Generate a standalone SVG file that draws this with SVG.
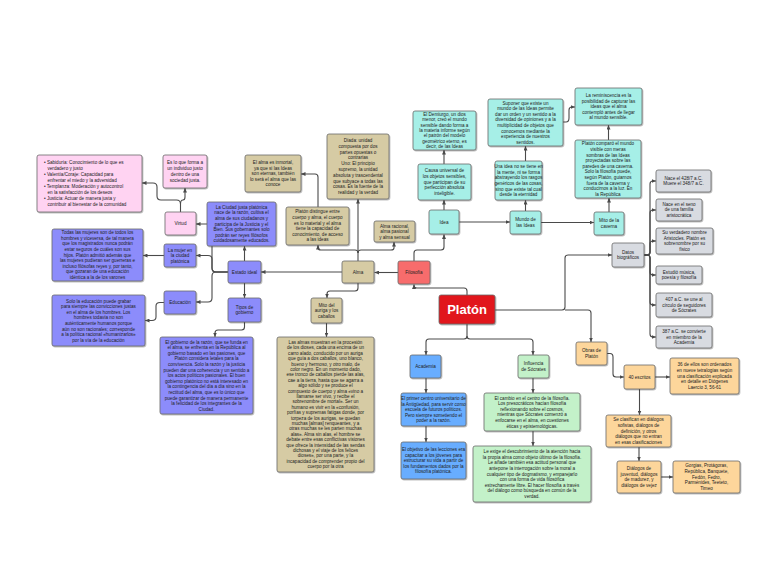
<svg xmlns="http://www.w3.org/2000/svg" width="768" height="577" viewBox="0 0 768 577">
<style>
text{font-family:"Liberation Sans",Arial,sans-serif;font-size:4.6px;fill:#222;text-anchor:middle}
.l{text-anchor:start}
rect{stroke:#6b6b6b;stroke-width:0.8;filter:url(#sh)}
.pk{fill:#FFD3F2}.bl{fill:#8C8CFB}.tn{fill:#D6CBA4}.sa{fill:#F76C6C}.rd{fill:#E1141A}.ac{fill:#67ADFF}.gr{fill:#C3F1C9}.cy{fill:#A6EFE7}.gy{fill:#D8DBE1}.or{fill:#FDD69B}
#conn path{fill:none;stroke:#4a4a4a;stroke-width:1.1;marker-end:url(#ar)}
.big{font-size:13px;font-weight:bold;fill:#fff}
</style>
<defs>
<filter id="sh" x="-10%" y="-10%" width="130%" height="130%"><feDropShadow dx="0.7" dy="0.9" stdDeviation="0.4" flood-color="#000" flood-opacity="0.35"/></filter>
<marker id="ar" markerWidth="5" markerHeight="4" refX="4.5" refY="2" orient="auto" markerUnits="userSpaceOnUse"><path d="M0,0 L4.5,2 L0,4 z" fill="#4a4a4a"/></marker>
</defs>
<rect x="0" y="0" width="768" height="577" fill="#fff" style="stroke:none;filter:none"/>
<g id="conn">
<path d="M467,295 V291 Q467,288 464,288 H417 Q414,288 414,286 V284.5"/>
<path d="M414,261 V253 Q414,250 417,250 H441 Q444,250 444,247 V234.5"/>
<path d="M398,272.5 H374.5"/>
<path d="M467,324 V336 Q467,339 464,339 H429 Q426,339 426,342 V355"/>
<path d="M467,336 Q467,339 470,339 H530 Q533,339 533,342 V355"/>
<path d="M495,310 H562 Q565,310 565,307 V258 Q565,255 568,255 H612"/>
<path d="M565,310 H588 Q591,310 591,313 V342"/>
<path d="M644,255 H647 Q650,255 650,252 V184 Q650,181 653,181 H656"/>
<path d="M644,255 H647 Q650,255 650,252 V213 Q650,210 653,210 H656"/>
<path d="M644,255 H647 Q650,255 650,252 V244 Q650,241 653,241 H656"/>
<path d="M644,255 H647 Q650,255 650,258 V272 Q650,275 653,275 H656"/>
<path d="M644,255 H647 Q650,255 650,258 V302 Q650,305 653,305 H656"/>
<path d="M644,255 H647 Q650,255 650,258 V334 Q650,337 653,337 H656"/>
<path d="M607,353.5 H610 Q613,353.5 613,357 V374 Q613,377 616,377 H624"/>
<path d="M655,377 H670"/>
<path d="M639.5,389 V415"/>
<path d="M639,447 V461"/>
<path d="M661,477 H673"/>
<path d="M426,378 V393"/>
<path d="M426,426 V442"/>
<path d="M533,378 V393"/>
<path d="M533,431 V446"/>
<path d="M444,210 V200"/>
<path d="M444,164 V150"/>
<path d="M459,222 H510"/>
<path d="M525.5,211 V200"/>
<path d="M525.5,161 V146"/>
<path d="M541,222.5 H594"/>
<path d="M609,212 V198"/>
<path d="M608.5,140 V125"/>
<path d="M563,122 H566 Q569,122 569,118 V110 Q569,107 572,107 H575"/>
<path d="M358,261 V199"/>
<path d="M358,253 Q358,250 355,250 H321 Q318,250 318,248 V245"/>
<path d="M358,253 Q358,250 361,250 H391 Q394,250 394,248 V242"/>
<path d="M318,208 V177 Q318,174 315,174 H301"/>
<path d="M342,272 H261"/>
<path d="M358,283 V288 Q358,291 355,291 H330 Q327,291 327,294 V298"/>
<path d="M326.5,323 V337"/>
<path d="M244.5,261 V246"/>
<path d="M244.5,283 V298"/>
<path d="M244.5,322 V327 Q244.5,330 241.5,330 H218 Q215,330 215,333 V337"/>
<path d="M228,272 H216 Q212,272 212,268 V228 Q212,224 208,224 H196"/>
<path d="M228,272 H216 Q212,272 212,268 V259 Q212,255.5 208,255.5 H196"/>
<path d="M228,272 H216 Q212,272 212,276 V298 Q212,302 208,302 H196"/>
<path d="M164,255.5 H143"/>
<path d="M164,302.5 H160 Q156,302.5 156,306 V317 Q156,320.5 152,320.5 H145"/>
<path d="M180.5,212 V204 Q180.5,200 176.5,200 H161 Q157,200 157,196 V187 Q157,183 153,183 H142"/>
<path d="M180.5,204 Q180.5,200 183,200 Q185,200 185,197 V188"/>
</g>
<g id="virtudes"><rect class="pk" x="37" y="155" width="105" height="57" rx="2"/>
<text class="l"><tspan x="44" y="164.1">• Sabiduría: Conocimiento de lo que es</tspan><tspan x="47.5" y="170.1">verdadero y justo</tspan><tspan x="44" y="176.1">• Valentía/Coraje: Capacidad para</tspan><tspan x="47.5" y="182.1">enfrentar el miedo y la adversidad</tspan><tspan x="44" y="188.1">• Templanza: Moderación y autocontrol</tspan><tspan x="47.5" y="194.1">en la satisfacción de los deseos</tspan><tspan x="44" y="200.1">• Justicia: Actuar de manera justa y</tspan><tspan x="47.5" y="206.1">contribuir al bienestar de la comunidad</tspan></text></g>
<g id="eslo"><rect class="pk" x="163" y="155" width="44" height="33" rx="2"/>
<text><tspan x="185" y="164.4">Es lo que forma a</tspan><tspan x="185" y="170.2">un individuo justo</tspan><tspan x="185" y="176">dentro de una</tspan><tspan x="185" y="181.8">sociedad justa.</tspan></text></g>
<g id="virtud"><rect class="pk" x="165" y="212" width="31" height="23" rx="2"/><text x="180.5" y="225.1">Virtud</text></g>
<g id="mujeres"><rect class="bl" x="52" y="229" width="91" height="52" rx="2"/>
<text><tspan x="97.5" y="234.2">Todas las mujeres son de todos los</tspan><tspan x="97.5" y="239.8">hombres y viceversa, de tal manera</tspan><tspan x="97.5" y="245.4">que los magistrados nunca podrán</tspan><tspan x="97.5" y="251">estar seguros de cuáles son sus</tspan><tspan x="97.5" y="256.6">hijos. Platón admitió además que</tspan><tspan x="97.5" y="262.2">las mujeres pudieran ser guerreras e</tspan><tspan x="97.5" y="267.8">incluso filósofas reyes y, por tanto,</tspan><tspan x="97.5" y="273.4">que gozaran de una educación</tspan><tspan x="97.5" y="279">idéntica a la de los varones</tspan></text></g>
<g id="mujer"><rect class="bl" x="164" y="244" width="32" height="23" rx="2"/>
<text><tspan x="180" y="251.5">La mujer en</tspan><tspan x="180" y="257.1">la ciudad</tspan><tspan x="180" y="262.7">platónica</tspan></text></g>
<g id="educacion"><rect class="bl" x="164" y="291" width="32" height="23" rx="2"/><text x="180" y="304.1">Educación</text></g>
<g id="soloedu"><rect class="bl" x="52" y="295" width="93" height="51" rx="2"/>
<text><tspan x="98.5" y="302.5">Solo la educación puede grabar</tspan><tspan x="98.5" y="308.1">para siempre las convicciones justas</tspan><tspan x="98.5" y="313.7">en el alma de los hombres. Los</tspan><tspan x="98.5" y="319.3">hombres todavía no son</tspan><tspan x="98.5" y="324.9">auténticamente humanos porque</tspan><tspan x="98.5" y="330.5">aún no son racionales; corresponde</tspan><tspan x="98.5" y="336.1">a la política racional «humanizarlos»</tspan><tspan x="98.5" y="341.7">por la vía de la educación</tspan></text></g>
<g id="estado"><rect class="bl" x="228" y="261" width="33" height="22" rx="2"/><text x="244.5" y="273.6">Estado ideal</text></g>
<g id="tipos"><rect class="bl" x="228" y="298" width="33" height="24" rx="2"/>
<text><tspan x="244.5" y="308.8">Tipos de</tspan><tspan x="244.5" y="314.4">gobierno</tspan></text></g>
<g id="gobierno"><rect class="bl" x="160" y="337" width="93" height="77" rx="2"/>
<text><tspan x="206.5" y="343.5">El gobierno de la razón, que se funda en</tspan><tspan x="206.5" y="349.1">el alma, se enfrenta en la República al</tspan><tspan x="206.5" y="354.7">gobierno basado en las pasiones, que</tspan><tspan x="206.5" y="360.3">Platón considera letales para la</tspan><tspan x="206.5" y="365.9">convivencia. Solo la razón y la justicia</tspan><tspan x="206.5" y="371.5">pueden dar una coherencia y un sentido a</tspan><tspan x="206.5" y="377.1">los actos políticos pasionales. El buen</tspan><tspan x="206.5" y="382.7">gobierno platónico no está interesado en</tspan><tspan x="206.5" y="388.3">la contingencia del día a día sino en la</tspan><tspan x="206.5" y="393.9">rectitud del alma, que es lo único que</tspan><tspan x="206.5" y="399.5">puede garantizar de manera permanente</tspan><tspan x="206.5" y="405.1">la felicidad de los integrantes de la</tspan><tspan x="206.5" y="410.7">Ciudad.</tspan></text></g>
<g id="ciudad"><rect class="bl" x="207" y="202" width="69" height="44" rx="2"/>
<text><tspan x="241.5" y="208.8">La Ciudad justa platónica</tspan><tspan x="241.5" y="214.4">nace de la razón, cultiva el</tspan><tspan x="241.5" y="220">alma de sus ciudadanos y</tspan><tspan x="241.5" y="225.6">participa de la Justicia y el</tspan><tspan x="241.5" y="231.2">Bien. Sus gobernantes solo</tspan><tspan x="241.5" y="236.8">podrán ser reyes filósofos</tspan><tspan x="241.5" y="242.4">cuidadosamente educados.</tspan></text></g>
<g id="inmortal"><rect class="tn" x="245" y="155" width="56" height="37" rx="2"/>
<text><tspan x="273" y="163.9">El alma es inmortal,</tspan><tspan x="273" y="169.5">ya que si las Ideas</tspan><tspan x="273" y="175.1">son eternas, también</tspan><tspan x="273" y="180.7">lo será el alma que las</tspan><tspan x="273" y="186.3">conoce</tspan></text></g>
<g id="diada"><rect class="tn" x="327" y="134" width="62" height="65" rx="2"/>
<text><tspan x="358" y="142">Díada: unidad</tspan><tspan x="358" y="147.8">compuesta por dos</tspan><tspan x="358" y="153.6">partes opuestas o</tspan><tspan x="358" y="159.4">contrarias</tspan><tspan x="358" y="165.2">Uno: El principio</tspan><tspan x="358" y="171">supremo, la unidad</tspan><tspan x="358" y="176.8">absoluta y trascendental</tspan><tspan x="358" y="182.6">que subyace a todas las</tspan><tspan x="358" y="188.4">cosas. Es la fuente de la</tspan><tspan x="358" y="194.2">realidad y la verdad</tspan></text></g>
<g id="distingue"><rect class="tn" x="286" y="207" width="63" height="38" rx="2"/>
<text><tspan x="317.5" y="213.4">Platón distingue entre</tspan><tspan x="317.5" y="219">cuerpo y alma, el cuerpo</tspan><tspan x="317.5" y="224.6">es lo material y el alma</tspan><tspan x="317.5" y="230.2">tiene la capacidad de</tspan><tspan x="317.5" y="235.8">conocimiento, de acceso</tspan><tspan x="317.5" y="241.4">a las ideas</tspan></text></g>
<g id="racional"><rect class="tn" x="374" y="221" width="41" height="21" rx="2"/>
<text><tspan x="394.5" y="227.6">Alma racional,</tspan><tspan x="394.5" y="233.2">alma pasional</tspan><tspan x="394.5" y="238.8">y alma sensual</tspan></text></g>
<g id="alma"><rect class="tn" x="342" y="261" width="32" height="22" rx="2"/><text x="358" y="273.6">Alma</text></g>
<g id="auriga"><rect class="tn" x="311" y="298" width="31" height="25" rx="2"/>
<text><tspan x="326.5" y="306.5">Mito del</tspan><tspan x="326.5" y="312.1">auriga y los</tspan><tspan x="326.5" y="317.7">caballos</tspan></text></g>
<g id="almas"><rect class="tn" x="277" y="337" width="97" height="135" rx="2"/>
<text><tspan x="325.5" y="344">Las almas muestran en la procesión</tspan><tspan x="325.5" y="349.4">de los dioses, cada una encima de un</tspan><tspan x="325.5" y="354.8">carro alado, conducido por un auriga</tspan><tspan x="325.5" y="360.2">que guía a dos caballos, uno blanco,</tspan><tspan x="325.5" y="365.6">bueno y hermoso, y otro malo, de</tspan><tspan x="325.5" y="371">color negro. En un momento dado,</tspan><tspan x="325.5" y="376.4">ese tronco de caballos pierde las alas,</tspan><tspan x="325.5" y="381.8">cae a la tierra, hasta que se agarra a</tspan><tspan x="325.5" y="387.2">algo sólido y se produce el</tspan><tspan x="325.5" y="392.6">compuesto de cuerpo y alma «vino a</tspan><tspan x="325.5" y="398">llamarse ser vivo, y recibe el</tspan><tspan x="325.5" y="403.4">sobrenombre de mortal». Ser un</tspan><tspan x="325.5" y="408.8">humano es vivir en la «confusión,</tspan><tspan x="325.5" y="414.2">porfías y supremas fatigas donde, por</tspan><tspan x="325.5" y="419.6">torpeza de los aurigas, se quedan</tspan><tspan x="325.5" y="425">muchas [almas] renqueantes, y a</tspan><tspan x="325.5" y="430.4">otras muchas se les parten muchas</tspan><tspan x="325.5" y="435.8">alas». Alma sin alas, el hombre se</tspan><tspan x="325.5" y="441.2">debate entre esas conflictivas visiones</tspan><tspan x="325.5" y="446.6">que ofrece la intensidad de las sendas</tspan><tspan x="325.5" y="452">dichosas y el viaje de los felices</tspan><tspan x="325.5" y="457.4">dioses», por una parte, y la</tspan><tspan x="325.5" y="462.8">incapacidad de comprender propio del</tspan><tspan x="325.5" y="468.2">cuerpo por la otra</tspan></text></g>
<g id="filosofia"><rect class="sa" x="398" y="261" width="32" height="23" rx="2"/><text x="414" y="274.1">Filosofía</text></g>
<g id="platon"><rect class="rd" x="439" y="295" width="56" height="29" rx="2"/><text class="big" x="467" y="314">Platón</text></g>
<g id="academia"><rect class="ac" x="410" y="355" width="31" height="23" rx="2"/><text x="425.5" y="368.1">Academia</text></g>
<g id="influencia"><rect class="gr" x="518" y="355" width="31" height="23" rx="2"/>
<text><tspan x="533.5" y="365.3">Influencia</tspan><tspan x="533.5" y="370.9">de Sócrates</tspan></text></g>
<g id="primer"><rect class="ac" x="401" y="393" width="65" height="33" rx="2"/>
<text><tspan x="433.5" y="399.9">El primer centro universitario de</tspan><tspan x="433.5" y="405.5">la Antigüedad, para servir como</tspan><tspan x="433.5" y="411.1">escuela de futuros políticos.</tspan><tspan x="433.5" y="416.7">Pero siempre sometiendo el</tspan><tspan x="433.5" y="422.3">poder a la razón.</tspan></text></g>
<g id="objetivo"><rect class="ac" x="401" y="442" width="65" height="37" rx="2"/>
<text><tspan x="433.5" y="450.9">El objetivo de las lecciones era</tspan><tspan x="433.5" y="456.5">capacitar a los jóvenes para</tspan><tspan x="433.5" y="462.1">estructurar su vida a partir de</tspan><tspan x="433.5" y="467.7">los fundamentos dados por la</tspan><tspan x="433.5" y="473.3">filosofía platónica.</tspan></text></g>
<g id="cambio"><rect class="gr" x="484" y="393" width="96" height="38" rx="2"/>
<text><tspan x="532" y="399.6">El cambio en el centro de la filosofía.</tspan><tspan x="532" y="405.2">Los presocráticos hacían filosofía</tspan><tspan x="532" y="410.8">reflexionando sobre el cosmos,</tspan><tspan x="532" y="416.4">mientras que Sócrates comenzó a</tspan><tspan x="532" y="422">enfocarse en el alma, en cuestiones</tspan><tspan x="532" y="427.6">éticas y epistemológicas.</tspan></text></g>
<g id="exige"><rect class="gr" x="473" y="446" width="118" height="56" rx="2"/>
<text><tspan x="532" y="453.2">Le exige el descubrimiento de la atención hacia</tspan><tspan x="532" y="458.8">la propia alma como objeto último de la filosofía.</tspan><tspan x="532" y="464.4">Le añade también esa actitud personal que</tspan><tspan x="532" y="470">antepone la interrogación sobre la moral a</tspan><tspan x="532" y="475.6">cualquier tipo de dogmatismo, y emparejarlo</tspan><tspan x="532" y="481.2">con una forma de vida filosófica</tspan><tspan x="532" y="486.8">estrechamente libre. El hacer filosofía a través</tspan><tspan x="532" y="492.4">del diálogo como búsqueda en común de la</tspan><tspan x="532" y="498">verdad.</tspan></text></g>
<g id="idea"><rect class="cy" x="429" y="210" width="30" height="24" rx="2"/><text x="444" y="223.6">Idea</text></g>
<g id="causa"><rect class="cy" x="418" y="164" width="53" height="36" rx="2"/>
<text><tspan x="444.5" y="172.4">Causa universal de</tspan><tspan x="444.5" y="178">los objetos sensibles,</tspan><tspan x="444.5" y="183.6">que participan de su</tspan><tspan x="444.5" y="189.2">perfección absoluta</tspan><tspan x="444.5" y="194.8">inteligible.</tspan></text></g>
<g id="demiurgo"><rect class="cy" x="413" y="111" width="63" height="39" rx="2"/>
<text><tspan x="444.5" y="116">El Demiurgo, un dios</tspan><tspan x="444.5" y="121.3">menor, creó el mundo</tspan><tspan x="444.5" y="126.6">sensible dando forma a</tspan><tspan x="444.5" y="131.9">la materia informe según</tspan><tspan x="444.5" y="137.2">el patrón del modelo</tspan><tspan x="444.5" y="142.5">geométrico eterno, es</tspan><tspan x="444.5" y="147.8">decir, de las Ideas</tspan></text></g>
<g id="mundo"><rect class="cy" x="510" y="211" width="31" height="23" rx="2"/>
<text><tspan x="525.5" y="221.3">Mundo de</tspan><tspan x="525.5" y="226.9">las Ideas</tspan></text></g>
<g id="unaidea"><rect class="cy" x="495" y="161" width="47" height="39" rx="2"/>
<text><tspan x="518.5" y="168.1">Una idea no se tiene en</tspan><tspan x="518.5" y="173.7">la mente, ni se forma</tspan><tspan x="518.5" y="179.3">abstrayendo los rasgos</tspan><tspan x="518.5" y="184.9">genéricos de las cosas,</tspan><tspan x="518.5" y="190.5">sino que existe tal cual</tspan><tspan x="518.5" y="196.1">desde la eternidad</tspan></text></g>
<g id="suponer"><rect class="cy" x="488" y="99" width="75" height="47" rx="2"/>
<text><tspan x="525.5" y="104.5">Suponer que existe un</tspan><tspan x="525.5" y="110.1">mundo de las Ideas permite</tspan><tspan x="525.5" y="115.7">dar un orden y un sentido a la</tspan><tspan x="525.5" y="121.3">diversidad de opiniones y a la</tspan><tspan x="525.5" y="126.9">multiplicidad de objetos que</tspan><tspan x="525.5" y="132.5">conocemos mediante la</tspan><tspan x="525.5" y="138.1">experiencia de nuestros</tspan><tspan x="525.5" y="143.7">sentidos.</tspan></text></g>
<g id="caverna"><rect class="cy" x="594" y="212" width="30" height="23" rx="2"/>
<text><tspan x="609" y="222.3">Mito de la</tspan><tspan x="609" y="227.9">caverna</tspan></text></g>
<g id="comparo"><rect class="cy" x="575" y="140" width="66" height="58" rx="2"/>
<text><tspan x="608" y="145.4">Platón comparó el mundo</tspan><tspan x="608" y="151">visible con meras</tspan><tspan x="608" y="156.6">sombras de las Ideas</tspan><tspan x="608" y="162.2">proyectadas sobre las</tspan><tspan x="608" y="167.8">paredes de una caverna.</tspan><tspan x="608" y="173.4">Solo la filosofía puede,</tspan><tspan x="608" y="179">según Platón, guiarnos</tspan><tspan x="608" y="184.6">fuera de la caverna y</tspan><tspan x="608" y="190.2">conducirnos a la luz. En</tspan><tspan x="608" y="195.8">la República</tspan></text></g>
<g id="reminiscencia"><rect class="cy" x="575" y="88" width="67" height="37" rx="2"/>
<text><tspan x="608.5" y="96.9">La reminiscencia es la</tspan><tspan x="608.5" y="102.5">posibilidad de capturar las</tspan><tspan x="608.5" y="108.1">ideas que el alma</tspan><tspan x="608.5" y="113.7">contempló antes de llegar</tspan><tspan x="608.5" y="119.3">al mundo sensible.</tspan></text></g>
<g id="datos"><rect class="gy" x="612" y="243" width="32" height="24" rx="2"/>
<text><tspan x="628" y="253.8">Datos</tspan><tspan x="628" y="259.4">biográficos</tspan></text></g>
<g id="nace"><rect class="gy" x="656" y="170" width="55" height="22" rx="2"/>
<text><tspan x="683.5" y="179.8">Nace el 428/7 a.C.</tspan><tspan x="683.5" y="185.4">Muere el 348/7 a.C.</tspan></text></g>
<g id="seno"><rect class="gy" x="656" y="199" width="46" height="22" rx="2"/>
<text><tspan x="679" y="205.6">Nace en el seno</tspan><tspan x="679" y="211.2">de una familia</tspan><tspan x="679" y="216.8">aristocrática</tspan></text></g>
<g id="nombre"><rect class="gy" x="656" y="228" width="57" height="26" rx="2"/>
<text><tspan x="684.5" y="234.2">Su verdadero nombre</tspan><tspan x="684.5" y="239.8">Aristocles. Platón es</tspan><tspan x="684.5" y="245.4">sobrenombre por su</tspan><tspan x="684.5" y="251">físico</tspan></text></g>
<g id="estudio"><rect class="gy" x="656" y="266" width="46" height="18" rx="2"/>
<text><tspan x="679" y="273.8">Estudió música,</tspan><tspan x="679" y="279.4">poesía y filosofía</tspan></text></g>
<g id="s407"><rect class="gy" x="656" y="293" width="56" height="24" rx="2"/>
<text><tspan x="684" y="301">407 a.C. se une al</tspan><tspan x="684" y="306.6">círculo de seguidores</tspan><tspan x="684" y="312.2">de Sócrates</tspan></text></g>
<g id="s387"><rect class="gy" x="656" y="326" width="56" height="22" rx="2"/>
<text><tspan x="684" y="333">387 a.C. se convierte</tspan><tspan x="684" y="338.6">en miembro de la</tspan><tspan x="684" y="344.2">Academia</tspan></text></g>
<g id="obras"><rect class="or" x="576" y="342" width="31" height="23" rx="2"/>
<text><tspan x="591.5" y="352.3">Obras de</tspan><tspan x="591.5" y="357.9">Platón</tspan></text></g>
<g id="escritos"><rect class="or" x="624" y="365" width="31" height="24" rx="2"/><text x="639.5" y="378.6">40 escritos</text></g>
<g id="tetralogias"><rect class="or" x="670" y="358" width="69" height="36" rx="2"/>
<text><tspan x="704.5" y="366.4">36 de ellos son ordenados</tspan><tspan x="704.5" y="372">en nueve tetralogías según</tspan><tspan x="704.5" y="377.6">una clasificación explicada</tspan><tspan x="704.5" y="383.2">en detalle en Diógenes</tspan><tspan x="704.5" y="388.8">Laercio 3, 56-61</tspan></text></g>
<g id="clasifican"><rect class="or" x="606" y="415" width="65" height="32" rx="2"/>
<text><tspan x="638.5" y="421.4">Se clasifican en diálogos</tspan><tspan x="638.5" y="427">sofistas, diálogos de</tspan><tspan x="638.5" y="432.6">definición, y otros</tspan><tspan x="638.5" y="438.2">diálogos que no entran</tspan><tspan x="638.5" y="443.8">en esas clasificaciones</tspan></text></g>
<g id="juventud"><rect class="or" x="617" y="461" width="44" height="32" rx="2"/>
<text><tspan x="639" y="470.2">Diálogos de</tspan><tspan x="639" y="475.8">juventud, diálogos</tspan><tspan x="639" y="481.4">de madurez, y</tspan><tspan x="639" y="487">diálogos de vejez</tspan></text></g>
<g id="gorgias"><rect class="or" x="673" y="461" width="67" height="32" rx="2"/>
<text><tspan x="706.5" y="467.4">Gorgias, Protágoras,</tspan><tspan x="706.5" y="473">República, Banquete,</tspan><tspan x="706.5" y="478.6">Fedón, Fedro,</tspan><tspan x="706.5" y="484.2">Parménides, Teeteto,</tspan><tspan x="706.5" y="489.8">Timeo</tspan></text></g>
</svg>
